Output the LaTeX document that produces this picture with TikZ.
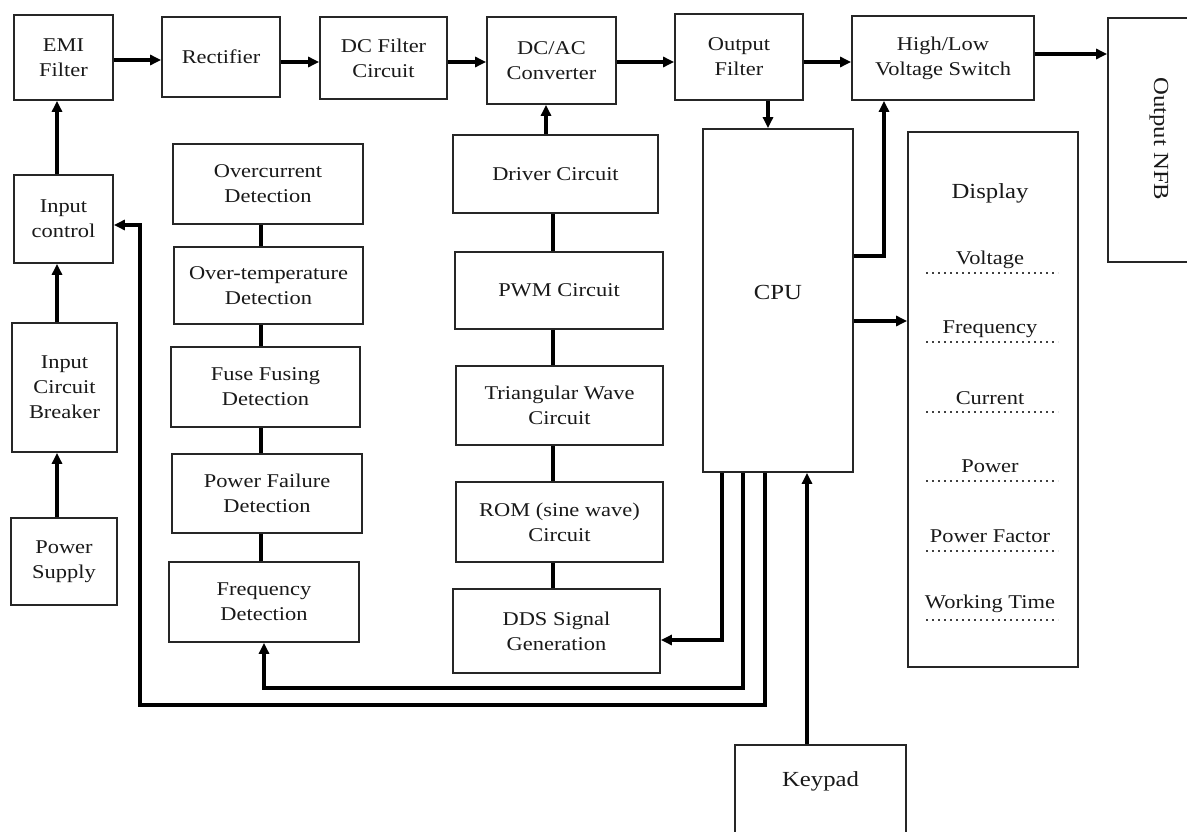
\documentclass[tikz,border=0pt]{standalone}
\usepackage{fontspec}
\setmainfont[FakeStretch=1.15]{Liberation Serif}
\usetikzlibrary{arrows.meta,calc}
\begin{document}
\begin{tikzpicture}[x=1pt,y=-1pt,
  blk/.style={draw=black!85, line width=1.7pt, inner sep=0pt, align=center, text=black!90, font=\fontsize{19.5}{25}\selectfont},
  txt/.style={inner sep=0pt, align=center, text=black!90, font=\fontsize{19.5}{25}\selectfont},
  big/.style={font=\fontsize{21.5}{26}\selectfont},
  arr/.style={line width=3.2pt, draw=black, -{Triangle[length=11pt,width=10pt]}},
  ln/.style={line width=3.2pt, draw=black},
  dots/.style={line width=1.6pt, draw=black!75, dash pattern=on 1.6pt off 4.4pt}]
\useasboundingbox (0,0) rectangle (1187,832);
\clip (0,0) rectangle (1187,832);
\fill[white] (0,0) rectangle (1187,832);
% helper coordinates
\coordinate (x57) at (57,0);
\coordinate (x140) at (140,0);
\coordinate (x261) at (261,0);
\coordinate (x546) at (546,0);
\coordinate (x553) at (553,0);
\coordinate (x722) at (722,0);
\coordinate (x743) at (743,0);
\coordinate (x765) at (765,0);
\coordinate (x768) at (768,0);
\coordinate (x807) at (807,0);
\coordinate (x884) at (884,0);
\coordinate (y54) at (0,54);
\coordinate (y60) at (0,60);
\coordinate (y62) at (0,62);
\coordinate (y225) at (0,225);
\coordinate (y256) at (0,256);
\coordinate (y321) at (0,321);
\coordinate (y640) at (0,640);
\coordinate (y688) at (0,688);
\coordinate (y705) at (0,705);
% top row
\node[blk, minimum width=99pt, minimum height=85pt] (emi) at (63.5,57.5) {EMI\\Filter};
\node[blk, minimum width=118pt, minimum height=80pt] (rect) at (221,57) {Rectifier};
\node[blk, minimum width=127pt, minimum height=82pt] (dcf) at (383.5,58) {DC Filter\\Circuit};
\node[blk, minimum width=129pt, minimum height=87pt] (dcac) at (551.5,60.5) {DC/AC\\Converter};
\node[blk, minimum width=128pt, minimum height=86pt] (of) at (739,57) {Output\\Filter};
\node[blk, minimum width=182pt, minimum height=84pt] (hl) at (943,58) {High/Low\\Voltage Switch};
\node[blk, minimum width=102pt, minimum height=244pt] (nfb) at (1159,140) {};
\node[txt, big, rotate=-90] (nfbt) at (1159,139) {Output NFB};
% left column
\node[blk, minimum width=99pt, minimum height=88pt] (inctl) at (63.5,219) {Input\\control};
\node[blk, minimum width=105pt, minimum height=129pt] (icb) at (64.5,387.5) {Input\\Circuit\\Breaker};
\node[blk, minimum width=106pt, minimum height=87pt] (ps) at (64,561.5) {Power\\Supply};
% detection column
\node[blk, minimum width=190pt, minimum height=80pt] (oc) at (268,184) {Overcurrent\\Detection};
\node[blk, minimum width=189pt, minimum height=77pt] (ot) at (268.5,285.5) {Over-temperature\\Detection};
\node[blk, minimum width=189pt, minimum height=80pt] (ff) at (265.5,387) {Fuse Fusing\\Detection};
\node[blk, minimum width=190pt, minimum height=79pt] (pf) at (267,493.5) {Power Failure\\Detection};
\node[blk, minimum width=190pt, minimum height=80pt] (fd) at (264,602) {Frequency\\Detection};
% signal column
\node[blk, minimum width=205pt, minimum height=78pt] (drv) at (555.5,174) {Driver Circuit};
\node[blk, minimum width=208pt, minimum height=77pt] (pwm) at (559,290.5) {PWM Circuit};
\node[blk, minimum width=207pt, minimum height=79pt] (tri) at (559.5,405.5) {Triangular Wave\\Circuit};
\node[blk, minimum width=207pt, minimum height=80pt] (rom) at (559.5,522) {ROM (sine wave)\\Circuit};
\node[blk, minimum width=207pt, minimum height=84pt] (dds) at (556.5,631) {DDS Signal\\Generation};
% CPU, display, keypad
\node[blk, minimum width=150pt, minimum height=343pt] (cpu) at (778,300.5) {};
\node[txt, big] (cput) at (778,292) {CPU};
\node[blk, minimum width=170pt, minimum height=535pt] (disp) at (993,399.5) {};
\node[txt, big] (dispt) at (990,193) {Display};
\node[txt] (dv) at (990,260) {Voltage};
\node[txt] (dfq) at (990,329) {Frequency};
\node[txt] (dc) at (990,398) {Current};
\node[txt] (dp) at (990,466) {Power};
\node[txt] (dpf) at (990,536) {Power Factor};
\node[txt] (dwt) at (990,604) {Working Time};
\draw[dots] (926,273) -- (1058,273);
\draw[dots] (926,342) -- (1058,342);
\draw[dots] (926,412) -- (1058,412);
\draw[dots] (926,481) -- (1058,481);
\draw[dots] (926,551) -- (1058,551);
\draw[dots] (926,620) -- (1058,620);
\node[blk, big, minimum width=171pt, text height=41pt, text depth=70pt, anchor=base] (key) at (820.5,786) {Keypad};
% power path
\draw[arr] (emi.east |- y60) -- (rect.west |- y60);
\draw[arr] (rect.east |- y62) -- (dcf.west |- y62);
\draw[arr] (dcf.east |- y62) -- (dcac.west |- y62);
\draw[arr] (dcac.east |- y62) -- (of.west |- y62);
\draw[arr] (of.east |- y62) -- (hl.west |- y62);
\draw[arr] (hl.east |- y54) -- (nfb.west |- y54);
\draw[arr] (ps.north -| x57) -- (icb.south -| x57);
\draw[arr] (icb.north -| x57) -- (inctl.south -| x57);
\draw[arr] (inctl.north -| x57) -- (emi.south -| x57);
% detection chain
\draw[ln] (oc.south -| x261) -- (ot.north -| x261);
\draw[ln] (ot.south -| x261) -- (ff.north -| x261);
\draw[ln] (ff.south -| x261) -- (pf.north -| x261);
\draw[ln] (pf.south -| x261) -- (fd.north -| x261);
% signal chain
\draw[arr] (drv.north -| x546) -- (dcac.south -| x546);
\draw[ln] (drv.south -| x553) -- (pwm.north -| x553);
\draw[ln] (pwm.south -| x553) -- (tri.north -| x553);
\draw[ln] (tri.south -| x553) -- (rom.north -| x553);
\draw[ln] (rom.south -| x553) -- (dds.north -| x553);
% CPU connections
\draw[arr] (of.south -| x768) -- (cpu.north -| x768);
\draw[arr] (cpu.east |- y256) -| (hl.south -| x884);
\draw[arr] (cpu.east |- y321) -- (disp.west |- y321);
\draw[arr] (key.north -| x807) -- (cpu.south -| x807);
\draw[arr] (cpu.south -| x722) |- (dds.east |- y640);
\draw[arr] (cpu.south -| x743) |- (fd.south |- y688) -- (fd.south);
\draw[arr] (cpu.south -| x765) |- (x140 |- y705) |- (inctl.east |- y225);
\end{tikzpicture}
\end{document}
